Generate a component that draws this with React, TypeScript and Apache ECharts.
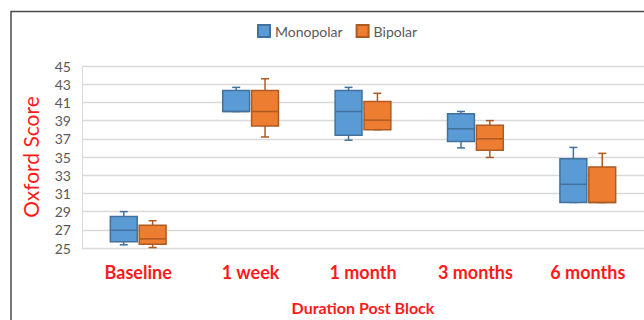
import React, { useEffect, useRef } from "react";
import * as echarts from "echarts";

const categories = ["Baseline", "1 week", "1 month", "3 months", "6 months"];
// [min, q1, median, q3, max]
const monopolar = [
  [25.35, 25.7, 26.95, 28.45, 29.0],
  [40.0, 40.0, 40.0, 42.3, 42.65],
  [36.85, 37.4, 40.0, 42.3, 42.65],
  [36.0, 36.7, 38.1, 39.75, 40.0],
  [30.0, 30.0, 32.0, 34.8, 36.05],
];
const bipolar = [
  [25.05, 25.4, 26.0, 27.5, 28.0],
  [37.2, 38.4, 40.0, 42.3, 43.6],
  [38.0, 38.0, 39.05, 41.1, 42.0],
  [34.95, 35.75, 37.0, 38.5, 39.0],
  [30.0, 30.0, 30.0, 33.9, 35.4],
];
const seriesNames = ["Monopolar", "Bipolar"];
const yTicks = { min: 25, max: 45, interval: 2 };

const FONT = "Lato, 'Noto Sans', sans-serif";

function makeRender(side: number, fill: string, stroke: string) {
  return (params: any, api: any) => {
    const idx = api.value(0);
    const vMin = api.value(1);
    const q1 = api.value(2);
    const med = api.value(3);
    const q3 = api.value(4);
    const vMax = api.value(5);
    const band = api.size([1, 0])[0];
    const boxW = band * 0.239;
    const cx = api.coord([idx, med])[0] + side * (boxW / 2 + 1);
    const yMin = api.coord([idx, vMin])[1];
    const yQ1 = api.coord([idx, q1])[1];
    const yMed = api.coord([idx, med])[1];
    const yQ3 = api.coord([idx, q3])[1];
    const yMax = api.coord([idx, vMax])[1];
    const cap = 8;
    const ls = { stroke, lineWidth: 1.5, fill: "none" };
    return {
      type: "group",
      children: [
        { type: "line", shape: { x1: cx, y1: yMax, x2: cx, y2: yQ3 }, style: ls },
        { type: "line", shape: { x1: cx, y1: yQ1, x2: cx, y2: yMin }, style: ls },
        { type: "line", shape: { x1: cx - cap / 2, y1: yMax, x2: cx + cap / 2, y2: yMax }, style: ls },
        { type: "line", shape: { x1: cx - cap / 2, y1: yMin, x2: cx + cap / 2, y2: yMin }, style: ls },
        {
          type: "rect",
          shape: { x: cx - boxW / 2, y: yQ3, width: boxW, height: yQ1 - yQ3 },
          style: { fill, stroke, lineWidth: 1.5 },
        },
        { type: "line", shape: { x1: cx - boxW / 2, y1: yMed, x2: cx + boxW / 2, y2: yMed }, style: ls },
      ],
    };
  };
}

export default function App() {
  const ref = useRef<HTMLDivElement>(null);
  useEffect(() => {
    if (!ref.current) return;
    const chart = echarts.init(ref.current, undefined, { renderer: "svg" });
    const colors = [
      { fill: "#5B9BD5", stroke: "#41719C" },
      { fill: "#ED7D31", stroke: "#AE5A21" },
    ];
    const datasets = [monopolar, bipolar];
    chart.setOption({
      animation: false,
      backgroundColor: "#ffffff",
      legend: {
        left: 252,
        top: 19,
        itemWidth: 12,
        itemHeight: 12,
        itemGap: 13,
        icon: "rect",
        data: seriesNames,
        textStyle: { fontFamily: FONT, fontSize: 14, color: "#595959" },
      },
      graphic: [
        {
          type: "rect",
          shape: { x: 11, y: 11.5, width: 700, height: 400 },
          style: { fill: "none", stroke: "#4a4a4a", lineWidth: 1.5 },
          silent: true,
        },
      ],
      grid: { left: 82, right: -3, top: 66, bottom: 70 },
      xAxis: {
        type: "category",
        data: categories,
        boundaryGap: true,
        axisTick: { show: false },
        axisLine: { show: true, lineStyle: { color: "#D9D9D9", width: 1 } },
        axisLabel: {
          color: "#FF1A1A",
          fontWeight: "bold",
          fontFamily: FONT,
          fontSize: 18,
          margin: 15,
          interval: 0,
        },
        name: "Duration Post Block",
        nameLocation: "middle",
        nameGap: 51,
        nameTextStyle: { color: "#FF1A1A", fontWeight: "bold", fontFamily: FONT, fontSize: 16 },
      },
      yAxis: {
        type: "value",
        min: yTicks.min,
        max: yTicks.max,
        interval: yTicks.interval,
        axisLine: { show: true, lineStyle: { color: "#D9D9D9", width: 1 } },
        axisTick: { show: false },
        splitLine: { show: true, lineStyle: { color: "#D9D9D9", width: 1.3 } },
        axisLabel: { color: "#595959", fontFamily: FONT, fontSize: 14, margin: 11 },
        name: "Oxford Score",
        nameLocation: "middle",
        nameRotate: 90,
        nameGap: 41,
        nameTextStyle: { color: "#FF1A1A", fontFamily: FONT, fontSize: 21 },
      },
      series: datasets.map((ds, si) => ({
        name: seriesNames[si],
        type: "custom",
        coordinateSystem: "cartesian2d",
        itemStyle: { color: colors[si].fill, borderColor: colors[si].stroke, borderWidth: 1 },
        encode: { x: 0, y: [1, 2, 3, 4, 5] },
        data: ds.map((v, i) => [i, ...v]),
        renderItem: makeRender(si === 0 ? -1 : 1, colors[si].fill, colors[si].stroke),
      })),
    });
    return () => chart.dispose();
  }, []);
  return (
    <div
      ref={ref}
      style={{ position: "absolute", left: 0, top: 0, width: 644, height: 320, background: "#fff" }}
    />
  );
}
